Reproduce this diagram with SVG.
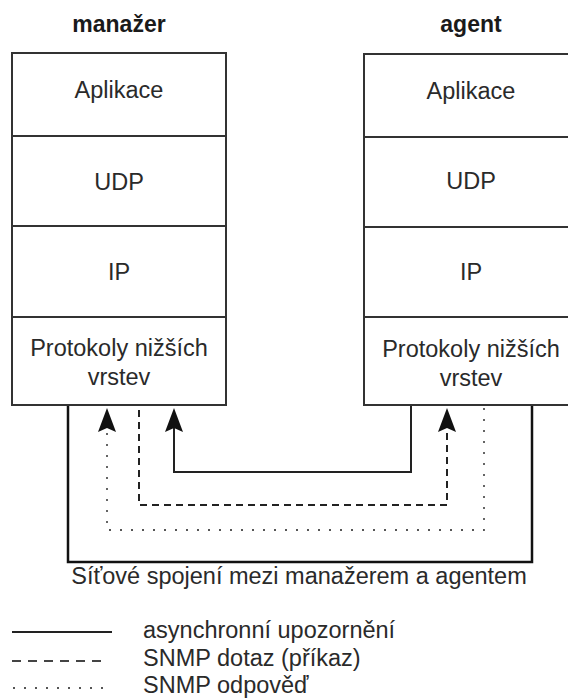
<svg xmlns="http://www.w3.org/2000/svg" width="568" height="700" viewBox="0 0 568 700">
  <style>
    text { font-family: "Liberation Sans", Arial, sans-serif; font-size: 23.5px; fill: #2a2a2a; }
    .title { font-weight: bold; font-size: 23px; fill: #1a1a1a; text-anchor: middle; }
    .layer { text-anchor: middle; }
    .box { fill: #fff; stroke: #333; stroke-width: 2; }
    .sep { stroke: #333; stroke-width: 2; fill: none; }
    .link { fill: none; stroke: #222; }
    .net { stroke-width: 2.5; stroke: #111; }
    .async { stroke-width: 2; }
    .query { stroke-width: 2; stroke-dasharray: 7 5; }
    .query-key { stroke-width: 2; stroke-dasharray: 9 7; stroke: #444; }
    .reply { stroke-width: 1.8; stroke-dasharray: 2 9; stroke: #555; }
  </style>
  <defs>
    <marker id="arrow" viewBox="0 0 24 18" markerWidth="24" markerHeight="18" refX="4" refY="9" orient="auto" markerUnits="userSpaceOnUse">
      <path d="M0,0 L24,9 L0,18 L4,9 Z" fill="#111"/>
    </marker>
  </defs>

  <rect width="568" height="700" fill="#fff"/>

  <!-- manager stack -->
  <g id="manazer">
    <text class="title" x="119" y="32">manažer</text>
    <rect class="box" x="12" y="53" width="214" height="352"/>
    <line class="sep" x1="12" y1="136" x2="226" y2="136"/>
    <line class="sep" x1="12" y1="226" x2="226" y2="226"/>
    <line class="sep" x1="12" y1="317" x2="226" y2="317"/>
    <text class="layer" x="119" y="98">Aplikace</text>
    <text class="layer" x="119" y="190">UDP</text>
    <text class="layer" x="119" y="280">IP</text>
    <text class="layer" x="119" y="356">Protokoly nižších</text>
    <text class="layer" x="119" y="385">vrstev</text>
  </g>

  <!-- agent stack -->
  <g id="agent">
    <text class="title" x="471" y="32">agent</text>
    <rect class="box" x="364" y="54" width="214" height="351"/>
    <line class="sep" x1="364" y1="137" x2="578" y2="137"/>
    <line class="sep" x1="364" y1="227" x2="578" y2="227"/>
    <line class="sep" x1="364" y1="317" x2="578" y2="317"/>
    <text class="layer" x="471" y="99">Aplikace</text>
    <text class="layer" x="471" y="189">UDP</text>
    <text class="layer" x="471" y="280">IP</text>
    <text class="layer" x="471" y="357">Protokoly nižších</text>
    <text class="layer" x="471" y="386">vrstev</text>
  </g>

  <!-- connections between the stacks -->
  <g id="connectors">
    <path class="link net" d="M68,406 V562 H532 V406"/>
    <path class="link async" d="M411,406 V472 H174 V428" marker-end="url(#arrow)"/>
    <path class="link query" d="M139,410 V505 H447 V428" marker-end="url(#arrow)"/>
    <path class="link reply" d="M484,408 V530 H107 V428" marker-end="url(#arrow)"/>
  </g>

  <g id="network-label">
    <text x="299" y="584" text-anchor="middle">Síťové spojení mezi manažerem a agentem</text>
  </g>

  <!-- legend -->
  <g id="legend">
    <line class="link async" x1="12" y1="632" x2="112" y2="632"/>
    <line class="link query-key" x1="12" y1="661" x2="108" y2="661"/>
    <line class="link reply" x1="13" y1="688" x2="112" y2="688"/>
    <text x="143" y="638">asynchronní upozornění</text>
    <text x="143" y="666">SNMP dotaz (příkaz)</text>
    <text x="143" y="693">SNMP odpověď</text>
  </g>
</svg>
